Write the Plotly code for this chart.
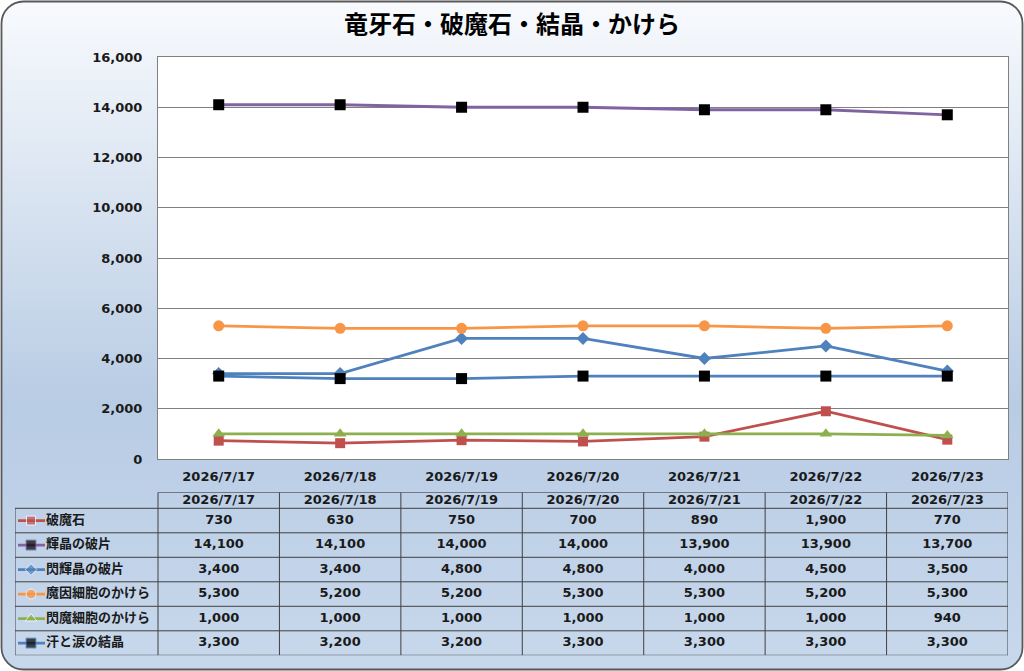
import base64
import plotly.graph_objects as go

# data
dates = ["2026/7/17", "2026/7/18", "2026/7/19", "2026/7/20",
         "2026/7/21", "2026/7/22", "2026/7/23"]
series_names = ["破魔石", "輝晶の破片", "閃輝晶の破片",
                "魔因細胞のかけら", "閃魔細胞のかけら", "汗と涙の結晶"]
hamaseki = [730, 630, 750, 700, 890, 1900, 770]
kisho = [14100, 14100, 14000, 14000, 13900, 13900, 13700]
senkisho = [3400, 3400, 4800, 4800, 4000, 4500, 3500]
maiin = [5300, 5200, 5200, 5300, 5300, 5200, 5300]
senma = [1000, 1000, 1000, 1000, 1000, 1000, 940]
asenamida = [3300, 3200, 3200, 3300, 3300, 3300, 3300]
y_ticks = [0, 2000, 4000, 6000, 8000, 10000, 12000, 14000, 16000]

values = [hamaseki, kisho, senkisho, maiin, senma, asenamida]

# styles: line colour, marker colour, symbol, marker size
styles = [
    ("#C0504D", "#C0504D", "square", 10),
    ("#8064A2", "#000000", "square", 11),
    ("#4F81BD", "#4F81BD", "diamond", 10),
    ("#F79646", "#F79646", "circle", 11),
    ("#8DB04F", "#8DB04F", "triangle-up", 11),
    ("#4F81BD", "#000000", "square", 11),
]

FONT = "DejaVu Sans, Noto Sans CJK JP"
JFONT = "Noto Sans CJK JP"
TXT = "#1a1a1a"
W, H = 1024, 671

num_font = dict(family=FONT, size=13, color=TXT, weight="bold")

fig = go.Figure()

for name, vals, (lc, mc, sym, ms) in zip(series_names, values, styles):
    fig.add_trace(go.Scatter(
        x=dates, y=vals, name=name, mode="lines+markers",
        line=dict(color=lc, width=2.8),
        marker=dict(color=mc, symbol=sym, size=ms),
        xaxis="x", yaxis="y", hoverinfo="x+y+name",
    ))

# ---- data table underneath (second axes) ----
col_w = 850 / 7           # px per date column
tbl_left, tbl_right = 15, 1008
x_lo = -0.5 - (158 - tbl_left) / col_w
head_h = 16 / 24.5
idx = list(range(len(dates)))

def px_to_x(px):
    return x_lo + (px - tbl_left) / col_w

fig.add_trace(go.Scatter(
    x=idx, y=[-head_h / 2] * len(dates), text=dates, mode="text",
    textfont=num_font,
    xaxis="x2", yaxis="y2", hoverinfo="skip", showlegend=False,
))

for r, (name, vals, (lc, mc, sym, ms)) in enumerate(zip(series_names, values, styles)):
    yc = r + 0.5
    fig.add_trace(go.Scatter(
        x=idx, y=[yc] * len(vals), text=[f"{v:,}" for v in vals], mode="text",
        textfont=num_font,
        xaxis="x2", yaxis="y2", hoverinfo="skip", showlegend=False,
    ))
    # legend key
    fig.add_trace(go.Scatter(
        x=[px_to_x(18), px_to_x(31), px_to_x(45)], y=[yc] * 3,
        mode="lines+markers", line=dict(color=lc, width=2.8),
        marker=dict(color=mc, symbol=sym, size=[0, ms - 1, 0]),
        xaxis="x2", yaxis="y2", hoverinfo="skip", showlegend=False,
    ))
    fig.add_trace(go.Scatter(
        x=[px_to_x(46)], y=[yc], text=[name], mode="text",
        textposition="middle right",
        textfont=dict(family=JFONT, size=13, color=TXT, weight="bold"),
        xaxis="x2", yaxis="y2", hoverinfo="skip", showlegend=False,
    ))

# table grid lines
grid = dict(color="#404040", width=1)
shapes = []
n_rows = len(series_names)
shapes.append(dict(type="line", xref="x2", yref="y2", x0=-0.5, x1=6.5,
                   y0=-head_h, y1=-head_h, line=grid))
for r in range(n_rows + 1):
    shapes.append(dict(type="line", xref="x2", yref="y2", x0=x_lo, x1=6.5,
                       y0=r, y1=r, line=grid))
shapes.append(dict(type="line", xref="x2", yref="y2", x0=x_lo, x1=x_lo,
                   y0=0, y1=n_rows, line=grid))
for c in range(len(dates) + 1):
    shapes.append(dict(type="line", xref="x2", yref="y2", x0=c - 0.5, x1=c - 0.5,
                       y0=-head_h, y1=n_rows, line=grid))

# white plot area over the gradient background
shapes.insert(0, dict(type="rect", xref="x domain", yref="y domain",
                      x0=0, x1=1, y0=0, y1=1, fillcolor="white",
                      line=dict(width=0), layer="below"))

# gradient background with rounded border
svg = (
    f"<svg xmlns='http://www.w3.org/2000/svg' width='{W}' height='{H}'>"
    "<defs><linearGradient id='g' x1='0' y1='0' x2='0' y2='1'>"
    "<stop offset='0' stop-color='#f8fafd'/>"
    "<stop offset='0.6' stop-color='#b8cce4'/>"
    "<stop offset='1' stop-color='#c8d8ec'/>"
    "</linearGradient></defs>"
    f"<rect x='1.5' y='1.5' width='{W - 3}' height='{H - 3}' rx='22' ry='22' "
    "fill='url(#g)' stroke='#595959' stroke-width='1.8'/></svg>"
)
bg_src = "data:image/svg+xml;base64," + base64.b64encode(svg.encode()).decode()

fig.update_layout(
    width=W, height=H,
    autosize=False,
    margin=dict(l=0, r=0, t=0, b=0, pad=0),
    paper_bgcolor="white",
    plot_bgcolor="rgba(0,0,0,0)",
    showlegend=False,
    font=dict(family=FONT, size=13, color=TXT),
    title=dict(text="<b>竜牙石・破魔石・結晶・かけら</b>", x=0.5, xanchor="center",
               xref="paper", yref="paper",
               y=1 - 25 / H, yanchor="middle", automargin=False,
               font=dict(family=JFONT, size=24, color="#000000")),
    images=[dict(source=bg_src, xref="paper", yref="paper", x=0, y=1,
                 sizex=1, sizey=1, xanchor="left", yanchor="top",
                 sizing="stretch", layer="below")],
    shapes=shapes,
    xaxis=dict(
        domain=[158 / W, 1008 / W], type="category", range=[-0.5, 6.5],
        showgrid=False, showline=True, mirror=True, linecolor="#808080",
        linewidth=1, ticks="outside", ticklen=5, tickcolor="rgba(0,0,0,0)",
        tickfont=num_font,
        fixedrange=True, automargin=False,
    ),
    yaxis=dict(
        domain=[1 - 459 / H, 1 - 57 / H], range=[0, 16000],
        tickvals=y_ticks, tickformat=",", showgrid=True, gridcolor="#808080",
        gridwidth=1, showline=True, mirror=True, linecolor="#808080",
        ticks="outside", ticklen=12, tickcolor="rgba(0,0,0,0)",
        tickfont=num_font,
        zeroline=False, fixedrange=True, automargin=False,
    ),
    xaxis2=dict(
        domain=[tbl_left / W, tbl_right / W], range=[x_lo, 6.5],
        visible=False, fixedrange=True, anchor="y2", automargin=False,
    ),
    yaxis2=dict(
        domain=[1 - 655.3 / H, 1 - 492.3 / H], range=[n_rows, -head_h],
        visible=False, fixedrange=True, anchor="x2", automargin=False,
    ),
)

fig.write_html("out.html", config={"displayModeBar": False},
               post_script="document.body.style.margin='0';")
